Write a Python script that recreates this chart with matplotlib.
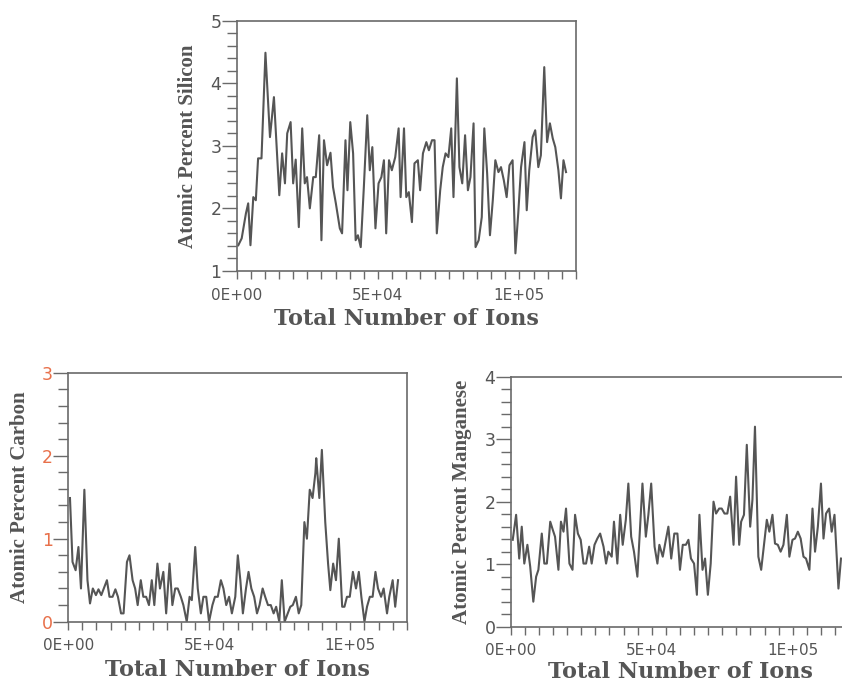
import numpy as np
import matplotlib
matplotlib.use('agg')
import matplotlib.pyplot as plt
from matplotlib.ticker import MultipleLocator, FuncFormatter

# positions in thousands of ions, values in atomic percent
si_k = [0.6, 1.8, 3.3, 4.1, 4.9, 5.9, 6.8, 7.6, 8.8, 10.2, 11.8, 13.2, 15.1, 16.1, 17.1, 17.9,
        19.1, 20.0, 20.9, 22.0, 23.2, 24.1, 24.9, 25.9, 27.1, 28.0, 29.2, 30.0, 30.9, 32.0, 33.2,
        34.1, 35.1, 36.5, 37.3, 38.5, 39.2, 40.2, 41.2, 42.1, 42.9, 43.9, 45.0, 46.2, 47.1, 48.0,
        49.1, 50.2, 51.2, 52.1, 52.9, 53.9, 54.9, 56.1, 57.3, 58.0, 59.2, 60.0, 60.9, 62.0, 62.9,
        64.1, 64.9, 65.9, 67.1, 68.0, 69.1, 70.0, 70.8, 72.0, 72.9, 73.9, 74.9, 75.9, 76.7, 77.9,
        78.8, 79.8, 80.8, 81.8, 82.7, 83.8, 84.5, 85.6, 86.7, 87.6, 88.6, 89.6, 90.6, 91.5, 92.6,
        93.5, 94.5, 95.5, 96.5, 97.6, 98.6, 99.6, 100.6, 101.8, 102.6, 103.5, 104.7, 105.6, 106.7,
        107.6, 108.8, 109.8, 110.8, 111.8, 112.7, 113.8, 114.7, 115.6, 116.5]
si = [1.41, 1.52, 1.92, 2.08, 1.41, 2.18, 2.13, 2.80, 2.80, 4.49, 3.14, 3.78, 2.21, 2.88, 2.40, 3.20,
      3.38, 2.40, 2.78, 1.70, 3.28, 2.40, 2.50, 2.00, 2.50, 2.50, 3.17, 1.49, 3.09, 2.69, 2.89,
      2.34, 2.08, 1.68, 1.60, 3.09, 2.29, 3.38, 2.88, 1.49, 1.57, 1.38, 2.34, 3.49, 2.61, 2.98,
      1.68, 2.40, 2.50, 2.77, 1.60, 2.77, 2.61, 2.82, 3.28, 2.18, 3.28, 2.18, 2.26, 1.78, 2.72,
      2.77, 2.29, 2.88, 3.06, 2.93, 3.09, 3.09, 1.60, 2.29, 2.66, 2.88, 2.82, 3.28, 2.18, 4.08,
      2.66, 2.40, 3.17, 2.29, 2.50, 3.36, 1.38, 1.49, 1.86, 3.28, 2.56, 1.57, 2.13, 2.77, 2.58,
      2.66, 2.45, 2.18, 2.69, 2.77, 1.28, 1.92, 2.66, 3.06, 1.97, 2.61, 3.14, 3.25, 2.66,
      2.85, 4.26, 3.06, 3.36, 3.12, 2.98, 2.61, 2.16, 2.77, 2.58]

c_k = [0.6, 1.5, 2.6, 3.6, 4.5, 5.7, 6.8, 7.7, 8.7, 9.8, 10.7, 11.7, 13.7, 14.6, 15.7, 16.7, 17.6,
       18.7, 19.6, 20.8, 21.7, 22.8, 23.7, 24.6, 25.7, 26.6, 27.6, 28.6, 29.6, 30.5, 31.6, 32.5,
       33.7, 34.7, 35.9, 36.9, 37.9, 38.8, 39.9, 40.8, 42.0, 43.0, 43.8, 45.0, 45.9, 47.0, 47.9,
       48.9, 49.9, 51.1, 52.0, 53.0, 54.1, 55.0, 56.0, 57.0, 58.0, 59.2, 60.1, 61.0, 61.9, 63.0,
       63.9, 64.9, 65.9, 66.9, 67.8, 68.9, 69.8, 70.8, 71.8, 72.8, 73.7, 74.8, 75.7, 76.7, 77.8,
       78.7, 79.6, 80.7, 81.7, 82.6, 83.7, 84.6, 85.6, 86.6, 87.6, 87.9, 89.0, 89.9, 91.1, 92.1,
       92.9, 93.9, 94.9, 95.9, 97.1, 97.9, 98.8, 99.8, 100.9, 102.0, 103.0, 103.9, 105.0, 105.9,
       106.9, 107.9, 108.9, 109.8, 110.9, 111.8, 113.0, 113.8, 115.0, 115.9, 116.9]
carbon = [1.49, 0.72, 0.62, 0.90, 0.40, 1.59, 0.50, 0.22, 0.40, 0.32, 0.39, 0.32, 0.50, 0.30, 0.30,
          0.39, 0.30, 0.10, 0.10, 0.72, 0.80, 0.50, 0.40, 0.20, 0.50, 0.30, 0.30, 0.20, 0.50, 0.20,
          0.70, 0.40, 0.60, 0.10, 0.70, 0.20, 0.40, 0.40, 0.30, 0.20, 0.00, 0.30, 0.26, 0.90, 0.40,
          0.10, 0.30, 0.30, 0.00, 0.20, 0.30, 0.30, 0.50, 0.40, 0.20, 0.30, 0.10, 0.30, 0.80, 0.50,
          0.10, 0.40, 0.60, 0.40, 0.30, 0.10, 0.20, 0.40, 0.30, 0.20, 0.20, 0.10, 0.18, 0.00, 0.50,
          0.00, 0.10, 0.18, 0.20, 0.30, 0.10, 0.20, 1.20, 1.00, 1.59, 1.49, 1.79, 1.97, 1.49, 2.07,
          1.20, 0.70, 0.38, 0.70, 0.50, 1.00, 0.18, 0.18, 0.30, 0.30, 0.60, 0.40, 0.60, 0.30, 0.00,
          0.18, 0.30, 0.30, 0.60, 0.40, 0.30, 0.40, 0.10, 0.30, 0.50, 0.18, 0.50]

mn_k = [0.7, 1.9, 3.0, 3.9, 4.8, 5.9, 6.9, 8.0, 9.0, 9.8, 11.0, 11.9, 12.8, 14.0, 14.9, 15.7, 16.9,
        17.8, 18.7, 19.6, 20.8, 21.9, 22.8, 23.8, 24.8, 25.8, 26.7, 27.8, 28.7, 29.7, 30.7, 31.7,
        32.9, 33.8, 34.6, 35.8, 36.6, 37.8, 38.8, 39.7, 40.8, 41.7, 42.7, 43.7, 44.9, 46.7, 47.9,
        48.8, 49.8, 51.0, 52.0, 52.7, 53.9, 55.0, 55.9, 56.9, 58.0, 59.1, 60.0, 61.0, 62.1, 63.0,
        63.9, 65.0, 66.0, 66.9, 68.0, 68.9, 69.9, 70.9, 71.9, 72.8, 73.9, 74.8, 75.8, 76.8, 77.8,
        79.0, 79.9, 81.0, 81.7, 82.7, 83.7, 84.9, 85.7, 86.6, 87.8, 88.8, 89.8, 90.8, 91.7, 92.8,
        93.7, 94.7, 95.7, 96.7, 97.9, 98.8, 99.9, 100.8, 101.8, 102.8, 103.8, 104.7, 105.9, 107.0,
        107.9, 108.9, 110.0, 110.9, 111.8, 112.9, 113.8, 114.8, 116.2, 117.1]
mn = [1.39, 1.79, 1.09, 1.60, 1.01, 1.31, 0.96, 0.40, 0.80, 0.91, 1.49, 1.01, 1.01, 1.68, 1.55, 1.44,
      0.91, 1.68, 1.52, 1.89, 1.01, 0.91, 1.79, 1.49, 1.39, 1.01, 1.01, 1.28, 1.01, 1.31, 1.41,
      1.49, 1.28, 1.01, 1.20, 1.12, 1.68, 1.01, 1.79, 1.31, 1.71, 2.29, 1.44, 1.20, 0.80, 2.29,
      1.44, 1.79, 2.29, 1.28, 1.01, 1.31, 1.12, 1.39, 1.60, 1.09, 1.49, 1.49, 0.91, 1.31, 1.31,
      1.39, 1.09, 1.01, 0.51, 1.79, 0.91, 1.09, 0.51, 1.01, 2.00, 1.81, 1.89, 1.89, 1.81, 1.81,
      2.08, 1.31, 2.40, 1.31, 1.68, 1.79, 2.91, 1.60, 2.03, 3.20, 1.12, 0.91, 1.31, 1.71, 1.52,
      1.79, 1.33, 1.31, 1.20, 1.31, 1.79, 1.12, 1.39, 1.41, 1.52, 1.41, 1.12, 1.09, 0.91, 1.89,
      1.20, 1.60, 2.29, 1.41, 1.81, 1.89, 1.52, 1.79, 0.61, 1.09]

line_col = '#555555'
axis_col = '#6a6a6a'
label_font = dict(family='Liberation Serif', weight='bold', color='#555555')
xlab_font = dict(family='DejaVu Serif', weight='bold', color='#555555', size=16)

fig = plt.figure(figsize=(8.42, 6.84), dpi=100)


def setup(ax, ylim, ymajor, ylabel, ytick_col='#555555'):
    ax.set_xlim(0, 120000)
    ax.set_ylim(*ylim)
    ax.xaxis.set_major_locator(MultipleLocator(50000))
    ax.xaxis.set_minor_locator(MultipleLocator(5000))
    ax.yaxis.set_major_locator(MultipleLocator(ymajor))
    ax.yaxis.set_minor_locator(MultipleLocator(0.2))
    ax.xaxis.set_major_formatter(FuncFormatter(lambda v, p: f"{v:.0E}"))
    ax.tick_params(axis='x', which='both', direction='out', length=6, width=1,
                   color=axis_col, labelsize=11, labelcolor='#555555', pad=6)
    ax.tick_params(axis='y', which='major', direction='out', length=11, width=1,
                   color=axis_col, labelsize=12.5, labelcolor=ytick_col, pad=0)
    ax.tick_params(axis='y', which='minor', direction='out', length=7, width=1, color=axis_col)
    for s in ax.spines.values():
        s.set_color(axis_col)
        s.set_linewidth(1.2)
    ax.set_ylabel(ylabel, fontsize=15, **label_font)
    ax.set_xlabel("Total Number of Ions", **xlab_font)
    ax.yaxis.set_label_coords(-0.114, 0.5)
    ax.xaxis.set_label_coords(0.5, -0.15)


ax1 = fig.add_axes([0.281, 0.604, 0.403, 0.3655])
ax1.plot(np.array(si_k) * 1000, si, color=line_col, lw=1.5)
setup(ax1, (1, 5), 1, "Atomic Percent Silicon")

ax2 = fig.add_axes([0.0811, 0.0911, 0.402, 0.364])
ax2.plot(np.array(c_k) * 1000, carbon, color=line_col, lw=1.5)
setup(ax2, (0, 3), 1, "Atomic Percent Carbon", ytick_col='#e8704a')

ax3 = fig.add_axes([0.6066, 0.0838, 0.4019, 0.3655])
ax3.plot(np.array(mn_k) * 1000, mn, color=line_col, lw=1.5)
setup(ax3, (0, 4), 1, "Atomic Percent Manganese")
ax3.xaxis.set_label_coords(0.5, -0.137)

fig.savefig("out.png", dpi=100)
